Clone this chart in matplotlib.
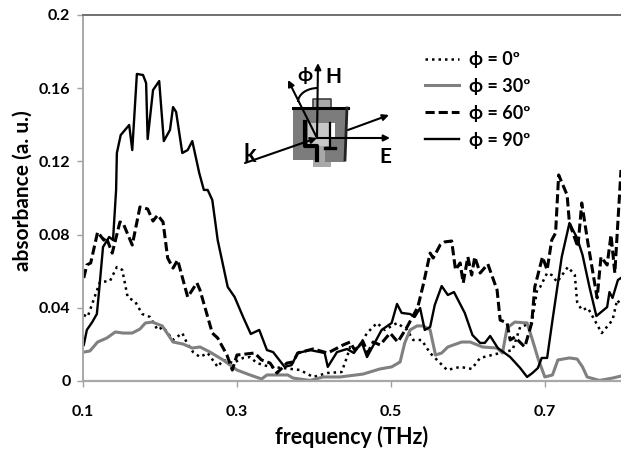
import matplotlib
matplotlib.use('Agg')
from matplotlib import pyplot as plt
from matplotlib.patches import Polygon, Arc

plt.rcParams['font.family'] = ['Lato', 'DejaVu Sans']
plt.rcParams['font.weight'] = 'bold'

x_90 = [.101, .105, .112, .118, .121, .126, .134, .139, .143, .144, .149, .160, .164, .170, .178, .182, .184, .191, .199, .205, .213, .217, .221, .229, .236, .242, .251, .257, .262, .268, .275, .288, .297, .308, .318, .329, .339, .347, .362, .371, .379, .395, .414, .418, .430, .443, .452, .462, .469, .488, .501, .508, .514, .525, .531, .538, .544, .551, .557, .566, .574, .582, .596, .606, .616, .622, .629, .639, .655, .668, .677, .684, .691, .696, .703, .710, .722, .732, .742, .749, .758, .767, .781, .784, .788, .795, .799]
y_90 = [.0197, .0279, .0322, .0366, .0497, .0732, .0787, .0770, .1044, .1246, .1344, .1399, .1262, .1678, .1672, .1628, .1322, .1590, .1639, .1311, .1372, .1497, .1470, .1246, .1262, .1311, .1137, .1044, .1044, .0989, .0770, .0514, .0459, .0350, .0257, .0279, .0169, .0158, .0077, .0087, .0153, .0169, .0153, .0077, .0158, .0175, .0153, .0213, .0131, .0279, .0317, .0421, .0372, .0366, .0350, .0399, .0279, .0295, .0415, .0519, .0470, .0486, .0372, .0251, .0208, .0208, .0246, .0180, .0131, .0071, .0022, .0044, .0071, .0126, .0126, .0333, .0678, .0863, .0781, .0689, .0514, .0355, .0404, .0486, .0454, .0552, .0563]

x_60 = [.101, .105, .110, .119, .127, .130, .138, .148, .152, .164, .174, .184, .191, .197, .204, .210, .217, .223, .236, .248, .252, .268, .275, .287, .294, .300, .323, .332, .343, .352, .365, .373, .379, .399, .418, .438, .447, .453, .464, .470, .477, .486, .499, .509, .521, .535, .542, .551, .555, .564, .570, .579, .584, .590, .594, .600, .605, .609, .616, .626, .638, .642, .651, .655, .661, .674, .683, .687, .697, .703, .709, .714, .718, .729, .732, .743, .748, .756, .768, .773, .781, .786, .791, .799]
y_60 = [.0563, .0634, .0645, .0814, .0770, .0787, .0699, .0869, .0863, .0743, .0951, .0940, .0874, .0907, .0869, .0672, .0617, .0661, .0459, .0536, .0497, .0262, .0235, .0142, .0060, .0142, .0153, .0115, .0098, .0044, .0098, .0104, .0153, .0175, .0153, .0197, .0213, .0169, .0213, .0153, .0213, .0197, .0262, .0213, .0295, .0404, .0525, .0699, .0672, .0743, .0760, .0765, .0607, .0645, .0536, .0678, .0579, .0678, .0590, .0639, .0497, .0333, .0317, .0224, .0240, .0186, .0317, .0514, .0678, .0607, .0770, .0809, .1126, .1016, .0863, .0732, .0973, .0754, .0454, .0678, .0634, .0798, .0590, .1153]

x_0 = [.101, .106, .116, .122, .135, .144, .151, .158, .168, .177, .187, .197, .204, .217, .229, .235, .243, .252, .262, .275, .282, .295, .308, .317, .326, .343, .360, .382, .399, .418, .436, .443, .447, .456, .469, .482, .492, .508, .521, .529, .540, .551, .573, .590, .605, .616, .642, .658, .668, .683, .690, .694, .703, .709, .716, .730, .739, .742, .748, .756, .774, .788, .794, .799]
y_0 = [.0361, .0350, .0470, .0541, .0546, .0623, .0607, .0459, .0432, .0366, .0350, .0279, .0295, .0224, .0262, .0208, .0158, .0131, .0153, .0077, .0115, .0098, .0126, .0131, .0098, .0077, .0071, .0060, .0022, .0044, .0049, .0131, .0186, .0169, .0262, .0317, .0279, .0317, .0279, .0224, .0224, .0153, .0060, .0077, .0066, .0126, .0153, .0169, .0295, .0317, .0497, .0514, .0590, .0579, .0541, .0623, .0579, .0432, .0388, .0399, .0262, .0333, .0443, .0415]

x_30 = [.101, .109, .119, .131, .142, .152, .164, .174, .181, .190, .203, .217, .230, .242, .252, .265, .282, .300, .317, .332, .339, .366, .373, .395, .412, .434, .464, .486, .501, .512, .518, .525, .534, .542, .551, .558, .566, .574, .592, .603, .619, .638, .645, .651, .661, .677, .684, .691, .700, .710, .717, .732, .742, .749, .755, .771, .788, .799]
y_30 = [.0158, .0164, .0213, .0235, .0268, .0262, .0262, .0284, .0317, .0322, .0301, .0213, .0202, .0180, .0186, .0158, .0115, .0060, .0033, .0011, .0033, .0033, .0016, .0003, .0022, .0022, .0038, .0066, .0077, .0104, .0208, .0279, .0301, .0301, .0279, .0142, .0153, .0186, .0213, .0213, .0186, .0180, .0153, .0290, .0322, .0317, .0224, .0126, .0022, .0033, .0115, .0126, .0120, .0077, .0022, .0003, .0016, .0027]

x_ticks = [0.1, 0.3, 0.5, 0.7]
x_labels = ['0.1', '0.3', '0.5', '0.7']
y_ticks = [0, 0.04, 0.08, 0.12, 0.16, 0.2]
y_labels = ['0', '0.04', '0.08', '0.12', '0.16', '0.2']

W, H = 621, 449
fig = plt.figure(figsize=(W / 100, H / 100), dpi=100)
ax = fig.add_axes([83 / W, 1 - 381 / H, 538 / W, 366 / H])

ax.plot(x_0, y_0, color='black', linestyle=(0, (1, 1.6)), lw=1.8, label='ϕ = 0º')
ax.plot(x_30, y_30, color='#808080', linestyle='solid', lw=2.2, label='ϕ = 30º')
ax.plot(x_60, y_60, color='black', linestyle=(0, (3, 1.3)), lw=2.2, label='ϕ = 60º')
ax.plot(x_90, y_90, color='black', linestyle='solid', lw=1.7, label='ϕ = 90º')

ax.set_xlim(0.1, 0.799)
ax.set_ylim(0, 0.2)
ax.set_xticks(x_ticks)
ax.set_xticklabels(x_labels)
ax.set_yticks(y_ticks)
ax.set_yticklabels(y_labels)
ax.tick_params(axis='both', length=4, width=1, color='#a0a0a0', labelsize=11.5, pad=5)
ax.tick_params(axis='x', pad=13)
ax.set_xlabel('frequency (THz)', fontsize=15.5, fontweight='bold', labelpad=5)
ax.set_ylabel('absorbance (a. u.)', fontsize=15, fontweight='bold')
ax.yaxis.set_label_coords(-0.094, 0.52)

ax.spines['right'].set_visible(False)
ax.spines['top'].set_color('#707070')
ax.spines['top'].set_linewidth(1.4)
ax.spines['left'].set_color('#a8a8a8')
ax.spines['left'].set_linewidth(1.4)
ax.spines['bottom'].set_color('#a8a8a8')
ax.spines['bottom'].set_linewidth(1.6)

ax.legend(loc='upper left', bbox_to_anchor=(0.636, 0.902), frameon=False, fontsize=13,
          handlelength=1.9, handletextpad=0.55, labelspacing=0.55, borderpad=0, borderaxespad=0)

# schematic of the split ring, in figure pixels
sk = fig.add_axes([0, 0, 1, 1], facecolor='none')
sk.set_xlim(0, W)
sk.set_ylim(H, 0)
sk.axis('off')

sk.add_patch(Polygon([(313, 99), (331, 99), (331, 167), (313, 167)], fc='#a8a8a8', ec='none'))
sk.plot([313, 313, 331, 331], [107, 99, 99, 107], color='#404040', lw=1.2)
sk.add_patch(Polygon([(293, 108), (348, 108), (345, 162), (325, 162), (325, 146), (317, 146),
                      (317, 160), (293, 160)], fc='#7c7c7c', ec='none'))
sk.add_patch(Polygon([(308, 123), (329, 123), (329, 146), (308, 146)], fc='#c8c8c8', ec='none'))
sk.add_patch(Polygon([(329, 123), (335, 123), (335, 137), (329, 137)], fc='white', ec='none'))
sk.plot([293, 348], [107.5, 107.5], color='black', lw=2.2)
sk.plot([347, 345], [108, 160], color='#222222', lw=2)
sk.plot([305, 305, 317, 317], [122, 146, 146, 160], color='black', lw=3)
sk.plot([330, 330], [123, 148], color='black', lw=1.6)
sk.plot([325, 335], [148, 148], color='black', lw=2.4)


def arrow(x0, y0, x1, y1):
    sk.annotate('', xy=(x1, y1), xytext=(x0, y0),
                arrowprops=dict(arrowstyle='-|>', color='black', lw=1.5, mutation_scale=9,
                                shrinkA=0, shrinkB=0))


arrow(317, 138, 318, 63)
arrow(317, 138, 288, 80)
arrow(317, 138, 390, 138)
arrow(245, 163, 317, 138)
arrow(348, 130, 389, 115)
sk.add_patch(Arc((318, 102), 40, 28, theta1=180, theta2=270, color='black', lw=1.5))

sk.text(305, 75, 'ϕ', fontsize=14, ha='center', va='center')
sk.text(333, 77, 'H', fontsize=15, fontweight='bold', ha='center', va='center')
sk.text(250, 155, 'k', fontsize=17, fontweight='bold', ha='center', va='center')
sk.text(385, 157, 'E', fontsize=15, fontweight='bold', ha='center', va='center')

fig.savefig('out.png', dpi=100)
